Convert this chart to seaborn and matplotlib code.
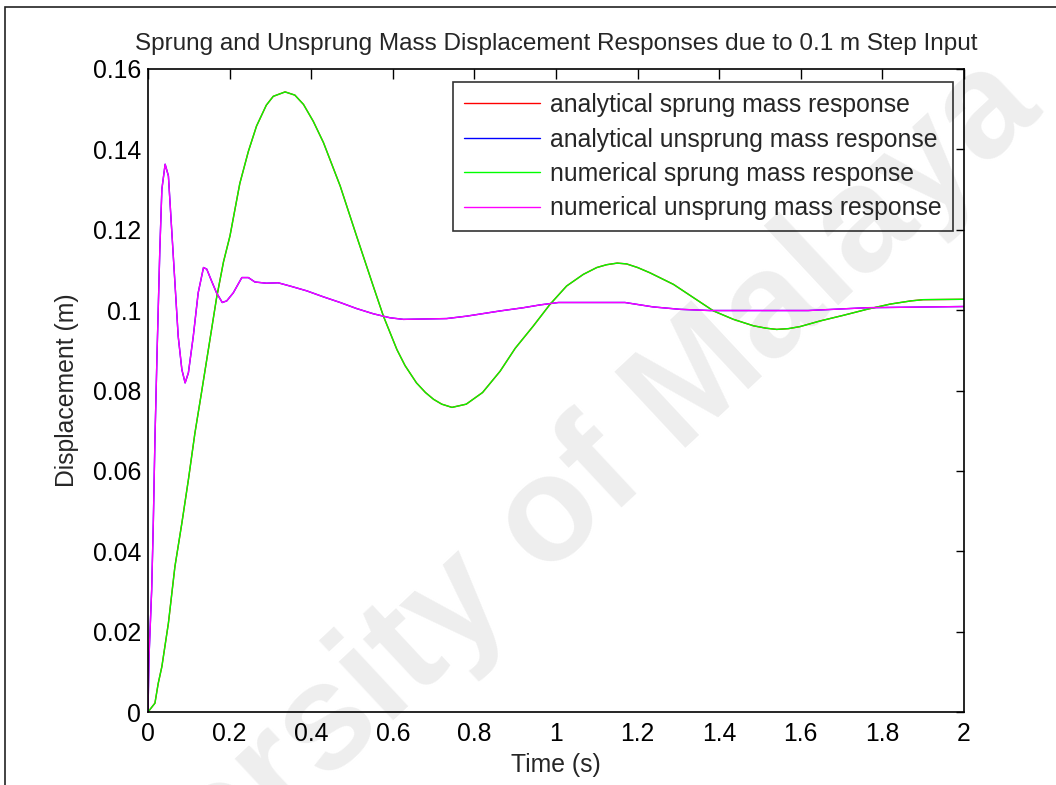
import matplotlib
matplotlib.use("Agg")
import matplotlib.pyplot as plt
from matplotlib.patches import Rectangle
from matplotlib.ticker import FuncFormatter
import seaborn as sns
import pandas as pd

# Sprung mass displacement (m) over time (s)
t_sprung = [0, 0.017, 0.025, 0.034, 0.050, 0.066, 0.083, 0.099, 0.115, 0.131,
            0.150, 0.168, 0.185, 0.201, 0.225, 0.246, 0.266, 0.290, 0.307, 0.336,
            0.360, 0.381, 0.405, 0.430, 0.471, 0.511, 0.552, 0.577, 0.610, 0.630,
            0.658, 0.680, 0.700, 0.720, 0.745, 0.780, 0.820, 0.863, 0.900, 0.944,
            0.985, 1.026, 1.067, 1.100, 1.124, 1.150, 1.173, 1.200, 1.230, 1.288,
            1.337, 1.386, 1.435, 1.484, 1.515, 1.541, 1.570, 1.598, 1.647, 1.704,
            1.762, 1.819, 1.870, 1.900, 2.000]
x_sprung = [0, 0.0022, 0.0071, 0.0113, 0.0221, 0.0362, 0.0470, 0.0578, 0.0694, 0.0794,
            0.0915, 0.1030, 0.1120, 0.1185, 0.1315, 0.1395, 0.1458, 0.1510, 0.1532, 0.1543,
            0.1535, 0.1512, 0.1470, 0.1417, 0.1309, 0.1185, 0.1060, 0.0985, 0.0902, 0.0862,
            0.0819, 0.0795, 0.0778, 0.0766, 0.0758, 0.0766, 0.0795, 0.0848, 0.0905, 0.0960,
            0.1014, 0.1060, 0.1089, 0.1106, 0.1113, 0.1117, 0.1115, 0.1106, 0.1093, 0.1064,
            0.1031, 0.0998, 0.0977, 0.0961, 0.0955, 0.0952, 0.0954, 0.0959, 0.0973, 0.0987,
            0.1002, 0.1015, 0.1023, 0.1026, 0.1027]

# Unsprung mass displacement (m) over time (s)
t_unsprung = [0, 0.0025, 0.009, 0.013, 0.017, 0.020, 0.022, 0.029, 0.034, 0.042,
              0.050, 0.058, 0.066, 0.074, 0.083, 0.091, 0.099, 0.111, 0.123, 0.136,
              0.144, 0.156, 0.168, 0.182, 0.193, 0.209, 0.230, 0.246, 0.262, 0.290,
              0.319, 0.348, 0.389, 0.430, 0.471, 0.511, 0.552, 0.593, 0.626, 0.732,
              0.781, 0.863, 0.920, 0.961, 1.006, 1.108, 1.169, 1.238, 1.304, 1.377,
              1.618, 1.762, 2.000]
x_unsprung = [0, 0.0138, 0.0304, 0.0470, 0.0678, 0.0802, 0.0886, 0.1151, 0.1301, 0.1363,
              0.1334, 0.1201, 0.1068, 0.0935, 0.0852, 0.0819, 0.0844, 0.0935, 0.1043, 0.1106,
              0.1102, 0.1072, 0.1043, 0.1019, 0.1023, 0.1043, 0.1081, 0.1081, 0.1070, 0.1067,
              0.1068, 0.1060, 0.1048, 0.1033, 0.1019, 0.1004, 0.0991, 0.0981, 0.0977, 0.0979,
              0.0985, 0.0998, 0.1006, 0.1013, 0.1019, 0.1019, 0.1019, 0.1008, 0.1002, 0.0999,
              0.0999, 0.1006, 0.1009]

series_labels = ["analytical sprung mass response",
                 "analytical unsprung mass response",
                 "numerical sprung mass response",
                 "numerical unsprung mass response"]
series_colors = ["#ff0000", "#0000ff", "#00ff00", "#ff00ff"]

x_ticks = [0, 0.2, 0.4, 0.6, 0.8, 1.0, 1.2, 1.4, 1.6, 1.8, 2.0]
y_ticks = [0, 0.02, 0.04, 0.06, 0.08, 0.10, 0.12, 0.14, 0.16]

frames = []
for label, t, x in [(series_labels[0], t_sprung, x_sprung),
                    (series_labels[1], t_unsprung, x_unsprung),
                    (series_labels[2], t_sprung, x_sprung),
                    (series_labels[3], t_unsprung, x_unsprung)]:
    frames.append(pd.DataFrame({"time": t, "disp": x, "series": label}))
df = pd.concat(frames, ignore_index=True)

sns.set_style("white")
plt.rcParams["font.family"] = ["Liberation Sans", "DejaVu Sans"]
FS = 17.8
plt.rcParams["font.size"] = FS

fig = plt.figure(figsize=(10.56, 7.85), dpi=100)
fig.patch.set_facecolor("white")

# faint watermark behind the plot
fig.text(0.462, 0.262, "University of Malaya", fontsize=108, fontweight="bold",
         color="#eeeeee", rotation=43, ha="center", va="center",
         rotation_mode="anchor", zorder=-5)

# outer frame around the figure
fig.add_artist(Rectangle((5 / 1056, -0.2), 1.3, 1 - 7 / 785 + 0.2,
                         transform=fig.transFigure, fill=False,
                         edgecolor="#222222", linewidth=1.2))

ax = fig.add_axes([148 / 1056, 73 / 785, (964 - 148) / 1056, (712 - 69) / 785])
ax.set_facecolor("none")

sns.lineplot(data=df, x="time", y="disp", hue="series", hue_order=series_labels,
             palette=series_colors, linewidth=1.0, sort=False, estimator=None,
             ax=ax)

ax.set_xlim(0, 2)
ax.set_ylim(0, 0.16)
ax.set_xticks(x_ticks)
ax.set_yticks(y_ticks)
ax.xaxis.set_major_formatter(FuncFormatter(lambda v, p: f"{v:g}"))
ax.yaxis.set_major_formatter(FuncFormatter(lambda v, p: f"{v:g}"))
ax.tick_params(direction="in", length=7, width=1.0, top=True, right=True,
               labelsize=FS, colors="black", pad=7)
ax.tick_params(axis="y", length=6, pad=5)
for s in ax.spines.values():
    s.set_visible(True)
    s.set_color("black")
    s.set_linewidth(1.2)

ax.set_xlabel("Time (s)", fontsize=FS, labelpad=5)
ax.set_ylabel("Displacement (m)", fontsize=FS, labelpad=10)
ax.set_title("Sprung and Unsprung Mass Displacement Responses due to 0.1 m Step Input",
             fontsize=17.5, pad=14)

leg = ax.legend(loc="upper right", bbox_to_anchor=((953 - 148) / 816, (712 - 82) / 643),
                borderaxespad=0, fancybox=False, frameon=True, fontsize=FS,
                handlelength=3.1, handletextpad=0.4, labelspacing=0.42,
                borderpad=0.45)
leg.get_frame().set_edgecolor("black")
leg.get_frame().set_linewidth(1.2)
leg.get_frame().set_facecolor("none")
for line in leg.get_lines():
    line.set_linewidth(1.0)

fig.savefig("out.png", dpi=100, facecolor="white")
